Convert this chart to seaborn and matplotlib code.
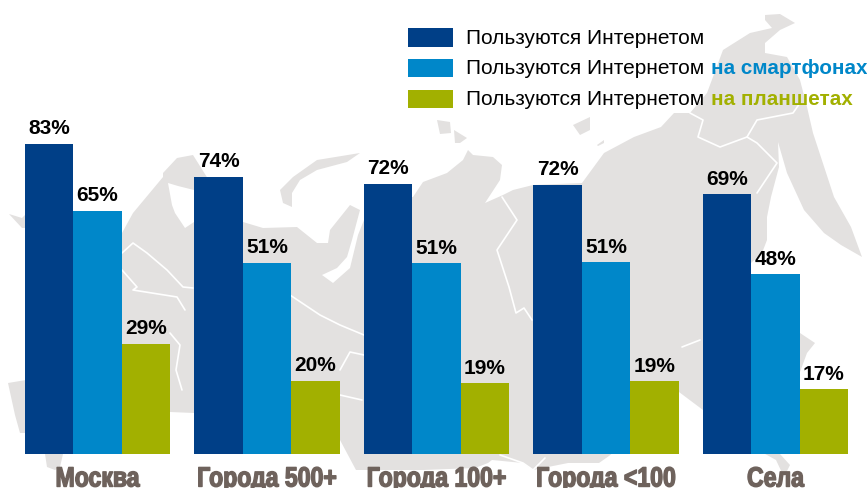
import matplotlib.pyplot as plt
import matplotlib.patheffects as pe
import pandas as pd
import seaborn as sns
from matplotlib.patches import Polygon, Rectangle
from matplotlib.transforms import Affine2D

places = ["Москва", "Города 500+", "Города 100+", "Города <100", "Села"]
internet = [82.9, 74.1, 72.2, 72.0, 69.4]
smartphones = [65.0, 51.1, 51.0, 51.3, 48.0]
tablets = [29.4, 19.6, 18.9, 19.4, 17.3]

base_text = "Пользуются Интернетом"
legend_extra = ["", "на смартфонах", "на планшетах"]
colors = ["#003f87", "#0087c9", "#a2b000"]
map_gray = "#e3e1e0"
label_gray = "#6e625c"

# map behind the bars, traced by eye, in pixels
mainland = [
    (40, 225), (122, 233), (133, 213), (163, 177), (163, 173), (177, 158), (193, 155),
    (215, 190), (243, 222), (263, 228), (297, 227), (317, 243), (328, 243), (330, 230),
    (350, 205), (360, 210), (352, 240), (347, 257), (337, 268), (322, 275), (333, 283),
    (350, 268), (358, 235), (364, 220), (390, 200), (413, 197), (423, 182), (447, 173),
    (463, 160), (468, 150), (473, 155), (493, 157), (502, 165), (500, 180), (485, 203),
    (503, 195), (513, 190), (533, 185), (582, 183), (604, 153), (634, 137), (661, 127),
    (674, 113), (690, 113), (707, 93), (723, 50), (750, 33), (772, 28), (765, 20),
    (765, 15), (780, 14), (795, 23), (780, 30), (765, 43), (765, 53), (787, 57),
    (800, 80), (807, 107), (813, 133), (834, 197), (851, 227), (862, 257), (841, 245),
    (824, 233), (804, 210), (787, 173), (778, 142), (779, 167), (771, 197), (767, 217),
    (767, 240), (762, 253), (751, 263), (745, 330), (800, 333), (815, 343), (807, 353),
    (800, 372), (760, 400), (780, 454), (790, 465), (784, 477), (776, 460), (740, 440),
    (703, 410), (679, 392), (640, 430), (609, 456), (599, 463), (568, 463), (533, 470),
    (523, 463), (492, 460), (488, 463), (475, 468), (423, 470), (364, 470), (356, 470),
    (340, 440), (290, 435), (194, 413), (170, 412), (122, 440), (63, 454), (60, 467),
    (55, 470), (47, 467), (45, 454), (30, 380),
]
white_sea = [(168, 183), (178, 186), (194, 190), (194, 222), (185, 228), (175, 213), (172, 205)]
map_pieces = [
    [(280, 190), (293, 177), (317, 160), (360, 153), (347, 162), (317, 170), (300, 180),
     (292, 193), (292, 207), (283, 203)],
    [(9, 214), (22, 218), (26, 214), (26, 228), (22, 228)],
    [(8, 383), (26, 380), (26, 433), (20, 433), (15, 415)],
    [(437, 120), (450, 122), (451, 133), (440, 134)],
    [(454, 130), (467, 138), (460, 143), (455, 143)],
    [(573, 125), (590, 117), (590, 130), (580, 135)],
    [(597, 145), (604, 140), (604, 143), (598, 146)],
]
map_borders = [
    [(122, 253), (133, 243), (147, 253), (167, 270), (183, 287), (193, 288)],
    [(122, 270), (137, 287), (133, 290), (177, 297), (185, 310)],
    [(170, 333), (180, 345), (176, 370), (182, 390)],
    [(290, 295), (320, 315), (340, 325), (364, 335)],
    [(340, 370), (350, 352), (364, 355)],
    [(502, 197), (517, 220), (497, 250), (509, 287), (516, 313), (524, 308), (532, 320)],
    [(690, 113), (703, 120), (698, 137), (720, 147), (747, 137), (757, 120), (793, 113), (800, 103)],
    [(747, 137), (757, 143), (777, 163), (757, 193)],
    [(682, 347), (700, 340)],
    [(340, 395), (362, 400)],
    [(500, 455), (523, 463), (533, 470), (545, 458)],
]


class SqueezedBold(pe.AbstractPathEffect):
    """Condensed heavy look for the group labels, no condensed font is installed."""

    def __init__(self, center_px, factor, stroke):
        super().__init__()
        self.center_px = center_px
        self.factor = factor
        self.stroke = stroke

    def draw_path(self, renderer, gc, tpath, affine, rgbFace=None):
        squeeze = Affine2D().translate(-self.center_px, 0).scale(self.factor, 1).translate(self.center_px, 0)
        gc0 = renderer.new_gc()
        gc0.copy_properties(gc)
        gc0.set_linewidth(self.stroke)
        gc0.set_foreground(rgbFace)
        renderer.draw_path(gc0, tpath, affine + squeeze, rgbFace)
        gc0.restore()


df = pd.DataFrame({"Интернет": internet, "Смартфоны": smartphones, "Планшеты": tablets}, index=places)
long = df.reset_index(names="place").melt(id_vars="place", var_name="kind", value_name="share")

sns.set_style("white")
plt.rcParams["font.family"] = ["Liberation Sans", "DejaVu Sans"]

fig = plt.figure(figsize=(8.67, 4.88), dpi=100)
bg = fig.add_axes([0, 0, 1, 1])
bg.set_xlim(0, 867)
bg.set_ylim(488, 0)
bg.axis("off")
bg.add_patch(Polygon(mainland, closed=True, fc=map_gray, ec="none"))
for piece in map_pieces:
    bg.add_patch(Polygon(piece, closed=True, fc=map_gray, ec="none"))
bg.add_patch(Polygon(white_sea, closed=True, fc="white", ec="none"))
for line in map_borders:
    bg.plot([p[0] for p in line], [p[1] for p in line], color="white", lw=1.2)

# 3.74 px per percent, baseline at y=454
ax = fig.add_axes([12.75 / 867, 34 / 488, 847.5 / 867, 366.5 / 488], facecolor="none")
sns.barplot(data=long, x="place", y="share", hue="kind", palette=colors, ax=ax,
            width=0.858, saturation=1, legend=False, edgecolor="none")
ax.set_ylim(0, 98)
ax.set_xlim(-0.5, 4.5)
ax.set_xlabel("")
ax.set_ylabel("")
ax.set_yticks([])
ax.tick_params(axis="x", length=0, pad=9)
for i, lab in enumerate(ax.get_xticklabels()):
    lab.set_fontsize(20)
    lab.set_color(label_gray)
    lab.set_fontweight("bold")
    center = ax.transData.transform((i, 0))[0]
    lab.set_path_effects([SqueezedBold(center, 0.83, 1.0)])
sns.despine(ax=ax, left=True, bottom=True)

for cont in ax.containers:
    ax.bar_label(cont, fmt="%.0f%%", fontsize=15, fontweight="bold", color="black", padding=4)

# legend drawn by hand, the coloured tail of each line is its own text
legend_y = [37, 67.5, 98.5]
for y, c, extra in zip(legend_y, colors, legend_extra):
    bg.add_patch(Rectangle((408, y - 9), 45, 18.5, fc=c, ec="none"))
    bg.text(466, y + 1, base_text, fontsize=15, va="center", color="black")
    if extra:
        bg.text(711, y + 1, extra, fontsize=14.9, va="center", color=c, fontweight="bold")

fig.savefig("out.png", dpi=100)
